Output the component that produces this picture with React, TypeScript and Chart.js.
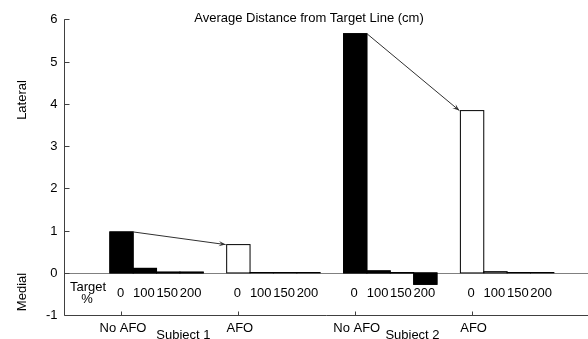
import React, { useEffect, useRef } from "react";
import { Chart, registerables } from "chart.js";

Chart.register(...registerables);

// ---- data ----
const targetLabels = ["0", "100", "150", "200"];
const conditionLabels = ["No AFO", "AFO", "No AFO", "AFO"];
const subjectLabels = ["Subject 1", "Subject 2"];
const s1NoAfo = [0.97, 0.11, 0.02, 0.02];
const s1Afo = [0.67, 0.01, 0.01, 0.01];
const s2NoAfo = [5.66, 0.05, 0.01, -0.27];
const s2Afo = [3.84, 0.03, 0.01, 0.01];
const yTicks = [-1, 0, 1, 2, 3, 4, 5, 6];
const titleText = "Average Distance from Target Line (cm)";

// group slot starts on the x scale (4 bars + 1 gap per group)
const groupStarts = [1, 6, 11, 16];
const groups = [s1NoAfo, s1Afo, s2NoAfo, s2Afo];
const groupIsAfo = [false, true, false, true];
const subjectCenters = [3.65, 13.45];

const FONT = '13px "Liberation Sans", Arial, Helvetica, sans-serif';

export default function App() {
  const ref = useRef<HTMLCanvasElement | null>(null);

  useEffect(() => {
    document.body.style.margin = "0";
    const canvas = ref.current!;
    const points: { x: number; y: number }[] = [];
    const colors: string[] = [];
    groups.forEach((vals, g) => {
      vals.forEach((v, i) => {
        points.push({ x: groupStarts[g] + i, y: v });
        colors.push(groupIsAfo[g] ? "#ffffff" : "#000000");
      });
    });

    const decor = {
      id: "decor",
      beforeDatasetsDraw(chart: any) {
        const { ctx, chartArea, scales } = chart;
        const y = scales.y;
        ctx.save();
        ctx.strokeStyle = "#808080";
        ctx.lineWidth = 1;
        const y0 = Math.round(y.getPixelForValue(0)) + 0.5;
        ctx.beginPath();
        ctx.moveTo(chartArea.left, y0);
        ctx.lineTo(chartArea.right, y0);
        ctx.stroke();
        ctx.restore();
      },
      afterDatasetsDraw(chart: any) {
        const { ctx, chartArea, scales } = chart;
        const x = scales.x;
        const y = scales.y;
        const meta = chart.getDatasetMeta(0);
        ctx.save();
        // bar edges
        ctx.strokeStyle = "#000";
        ctx.lineWidth = 1;
        const bars: any[] = meta.data.map((bar: any) =>
          bar.getProps(["x", "y", "base", "width"], true)
        );
        bars.forEach((b) => {
          const l = b.x - b.width / 2;
          const t = Math.min(b.y, b.base);
          const h = Math.abs(b.base - b.y);
          ctx.strokeRect(l, t, b.width, h);
        });

        // axes
        ctx.strokeStyle = "#404040";
        const left = Math.round(chartArea.left) + 0.5;
        const bottom = Math.round(y.getPixelForValue(-1)) + 0.5;
        const top = y.getPixelForValue(6);
        ctx.beginPath();
        ctx.moveTo(left, top);
        ctx.lineTo(left, bottom);
        ctx.lineTo(chartArea.right, bottom);
        yTicks.forEach((t) => {
          const py = Math.round(y.getPixelForValue(t)) + 0.5;
          ctx.moveTo(left, py);
          ctx.lineTo(left + 5, py);
        });
        groupStarts.forEach((s) => {
          const px = Math.round(x.getPixelForValue(s)) + 0.5;
          ctx.moveTo(px, bottom);
          ctx.lineTo(px, bottom - 4);
        });
        ctx.stroke();

        // arrows from No AFO "0" bar to AFO "0" bar
        const drawArrow = (x1: number, y1: number, x2: number, y2: number) => {
          ctx.strokeStyle = "#303030";
          ctx.fillStyle = "#303030";
          ctx.lineWidth = 1;
          ctx.beginPath();
          ctx.moveTo(x1, y1);
          ctx.lineTo(x2, y2);
          ctx.stroke();
          const ang = Math.atan2(y2 - y1, x2 - x1);
          const hl = 7;
          const hw = 2.6;
          const bx = x2 - hl * Math.cos(ang);
          const by = y2 - hl * Math.sin(ang);
          ctx.beginPath();
          ctx.moveTo(x2, y2);
          ctx.lineTo(bx + hw * Math.sin(ang), by - hw * Math.cos(ang));
          ctx.lineTo(x2 - 4 * Math.cos(ang), y2 - 4 * Math.sin(ang));
          ctx.lineTo(bx - hw * Math.sin(ang), by + hw * Math.cos(ang));
          ctx.closePath();
          ctx.fill();
        };
        [0, 2].forEach((g) => {
          const a = bars[g * 4];
          const b = bars[(g + 1) * 4];
          drawArrow(a.x + a.width / 2, a.y, b.x - b.width / 2 - 1, b.y);
        });

        // texts
        ctx.fillStyle = "#000";
        ctx.font = FONT;
        ctx.textAlign = "right";
        ctx.textBaseline = "middle";
        yTicks.forEach((t) => {
          ctx.fillText(String(t), left - 7, y.getPixelForValue(t) + 0.5);
        });
        ctx.textBaseline = "alphabetic";
        ctx.textAlign = "center";
        ctx.fillText(titleText, 309, 21.5);
        bars.forEach((b, i) => {
          ctx.fillText(targetLabels[i % 4], b.x - 1, 296.5);
        });
        ctx.fillText("Target", 88, 291.3);
        ctx.fillText("%", 87, 302.5);
        groupStarts.forEach((s, i) => {
          ctx.fillText(conditionLabels[i], x.getPixelForValue(s) + 1.5, 331.7);
        });
        subjectCenters.forEach((c, i) => {
          ctx.fillText(subjectLabels[i], x.getPixelForValue(c), 338.8);
        });
        const vert = (txt: string, cx: number, cy: number) => {
          ctx.save();
          ctx.translate(cx, cy);
          ctx.rotate(-Math.PI / 2);
          ctx.textAlign = "center";
          ctx.textBaseline = "middle";
          ctx.fillText(txt, 0, 0);
          ctx.restore();
        };
        vert("Lateral", 22, 100);
        vert("Medial", 22, 292);
        ctx.restore();
      },
    };

    const chart = new Chart(canvas, {
      type: "bar",
      data: {
        datasets: [
          {
            data: points,
            backgroundColor: colors,
            borderWidth: 0,
            barPercentage: 1,
            categoryPercentage: 1,
          },
        ],
      },
      options: {
        animation: false,
        responsive: false,
        events: [],
        layout: { padding: { left: 64, top: 19.3, right: 0, bottom: 23.8 } },
        plugins: {
          legend: { display: false },
          tooltip: { enabled: false },
          title: { display: false },
        },
        scales: {
          x: { type: "linear", min: -1.46, max: 20.96, offset: false, display: false },
          y: { min: -1, max: 6, display: false },
        },
      },
      plugins: [decor],
    });
    return () => chart.destroy();
  }, []);

  return (
    <div style={{ width: 588, height: 339, background: "#fff" }}>
      <canvas ref={ref} width={588} height={339} style={{ display: "block" }} />
    </div>
  );
}
